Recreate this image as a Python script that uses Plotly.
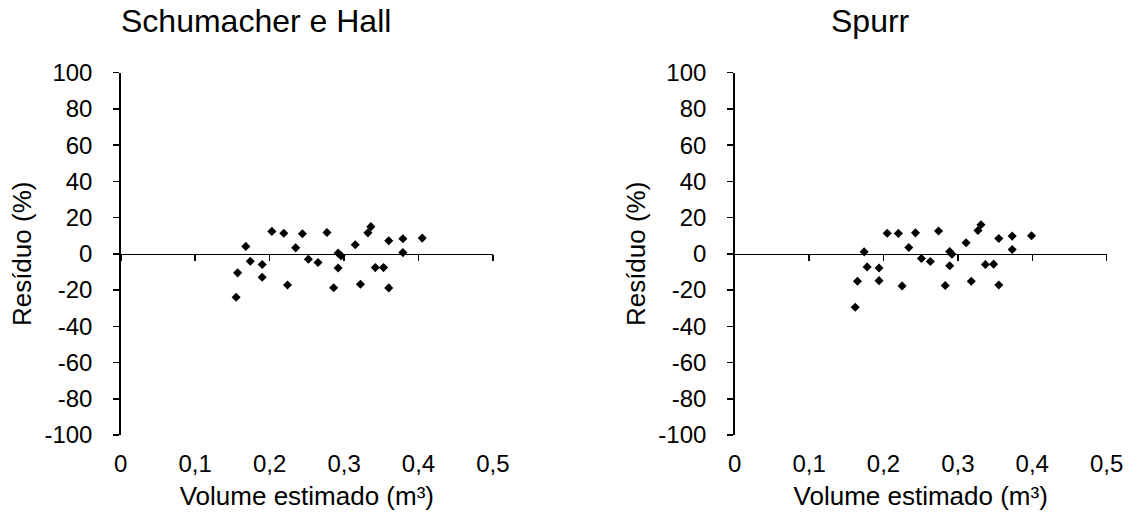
import plotly.graph_objects as go

# ---- data ----
sh_volume = [0.155, 0.157, 0.168, 0.174, 0.190, 0.190, 0.203, 0.219, 0.224, 0.235,
             0.244, 0.252, 0.265, 0.277, 0.286, 0.292, 0.296, 0.292, 0.315, 0.322,
             0.332, 0.336, 0.342, 0.353, 0.360, 0.360, 0.379, 0.379, 0.405]
sh_residuo = [-24.0, -10.5, 4.1, -4.1, -5.9, -12.9, 12.4, 11.4, -17.2, 3.3,
              11.1, -3.0, -4.8, 11.8, -18.7, 0.4, -1.1, -7.8, 5.0, -16.8,
              11.6, 15.0, -7.6, -7.6, 7.2, -18.8, 8.3, 0.7, 8.7]

sp_volume = [0.162, 0.165, 0.174, 0.178, 0.194, 0.194, 0.205, 0.220, 0.225, 0.234,
             0.243, 0.251, 0.263, 0.274, 0.283, 0.289, 0.292, 0.289, 0.311, 0.318,
             0.327, 0.331, 0.337, 0.348, 0.355, 0.355, 0.373, 0.373, 0.399]
sp_residuo = [-29.5, -15.1, 1.1, -7.2, -7.8, -14.8, 11.4, 11.3, -17.7, 3.5,
              11.6, -2.6, -4.2, 12.6, -17.5, 1.3, -0.2, -6.6, 6.1, -15.1,
              12.9, 16.1, -5.9, -5.7, 8.5, -17.2, 9.8, 2.4, 10.0]

panel_titles = ["Schumacher e Hall", "Spurr"]
x_tickvals = [0, 0.1, 0.2, 0.3, 0.4, 0.5]
x_ticktext = ["0", "0,1", "0,2", "0,3", "0,4", "0,5"]
y_tickvals = [-100, -80, -60, -40, -20, 0, 20, 40, 60, 80, 100]
y_ticktext = ["-100", "-80", "-60", "-40", "-20", "0", "20", "40", "60", "80", "100"]
x_title = "Volume estimado (m³)"
y_title = "Resíduo (%)"

# ---- layout geometry ----
W, H = 1134, 517
FONT = "Liberation Sans, Arial, sans-serif"
dom_left = [0.1065, 0.4347]
dom_right = [0.6479, 0.9759]
dom_y = [0.1586, 0.8594]
zero_pos = (dom_y[0] + dom_y[1]) / 2

fig = go.Figure()
marker = dict(symbol="diamond", size=7, color="black")

fig.add_trace(go.Scatter(x=sh_volume, y=sh_residuo, mode="markers", marker=marker,
                         xaxis="x", yaxis="y", hoverinfo="skip", showlegend=False))
fig.add_trace(go.Scatter(x=sh_volume, y=sh_residuo, mode="markers",
                         marker=dict(opacity=0), xaxis="x3", yaxis="y",
                         hoverinfo="skip", showlegend=False))
fig.add_trace(go.Scatter(x=sp_volume, y=sp_residuo, mode="markers", marker=marker,
                         xaxis="x2", yaxis="y2", hoverinfo="skip", showlegend=False))
fig.add_trace(go.Scatter(x=sp_volume, y=sp_residuo, mode="markers",
                         marker=dict(opacity=0), xaxis="x4", yaxis="y2",
                         hoverinfo="skip", showlegend=False))

tickfont = dict(family=FONT, size=24, color="black")
titlefont = dict(family=FONT, size=26, color="black")

def xaxis_bottom(domain, anchor):
    return dict(domain=domain, anchor=anchor, range=[0, 0.5], showline=False,
                ticks="", tickvals=x_tickvals, ticktext=x_ticktext,
                tickfont=tickfont, showgrid=False, zeroline=False,
                ticklabelstandoff=12, automargin=False,
                title=dict(text=x_title, font=titlefont, standoff=10))

def xaxis_zero(domain, overlay):
    return dict(domain=domain, overlaying=overlay, anchor="free", position=zero_pos,
                range=[0, 0.5], showline=True, linecolor="black", linewidth=1.5,
                ticks="outside", ticklen=6, tickwidth=1.5, tickcolor="black",
                tickvals=x_tickvals, showticklabels=False, showgrid=False,
                zeroline=False, automargin=False)

def yaxis(anchor):
    return dict(domain=dom_y, anchor=anchor, range=[-100, 100], tickvals=y_tickvals,
                ticktext=y_ticktext,
                showline=True, linecolor="black", linewidth=1.5, ticks="outside",
                ticklen=6, tickwidth=1.5, tickcolor="black", tickfont=tickfont,
                showgrid=False, zeroline=False, ticklabelstandoff=16, automargin=False,
                title=dict(text=y_title, font=titlefont, standoff=5))

fig.update_layout(
    template="none",
    width=W, height=H,
    margin=dict(l=0, r=0, t=0, b=0, pad=0),
    paper_bgcolor="white", plot_bgcolor="white",
    xaxis=xaxis_bottom(dom_left, "y"),
    xaxis2=xaxis_bottom(dom_right, "y2"),
    xaxis3=xaxis_zero(dom_left, "x"),
    xaxis4=xaxis_zero(dom_right, "x2"),
    yaxis=yaxis("x"),
    yaxis2=yaxis("x2"),
    font=dict(family=FONT, color="black"),
    hovermode=False,
)

title_font = dict(family=FONT, size=32, color="black")
fig.add_annotation(text=panel_titles[0], xref="paper", yref="paper",
                   x=256 / W, y=(H - 21) / H, xanchor="center", yanchor="middle",
                   showarrow=False, font=title_font)
fig.add_annotation(text=panel_titles[1], xref="paper", yref="paper",
                   x=870 / W, y=(H - 21) / H, xanchor="center", yanchor="middle",
                   showarrow=False, font=title_font)

fig.write_html("out.html",
               config={"displayModeBar": False, "staticPlot": True},
               post_script="document.body.style.margin='0px';document.body.style.overflow='hidden';")
